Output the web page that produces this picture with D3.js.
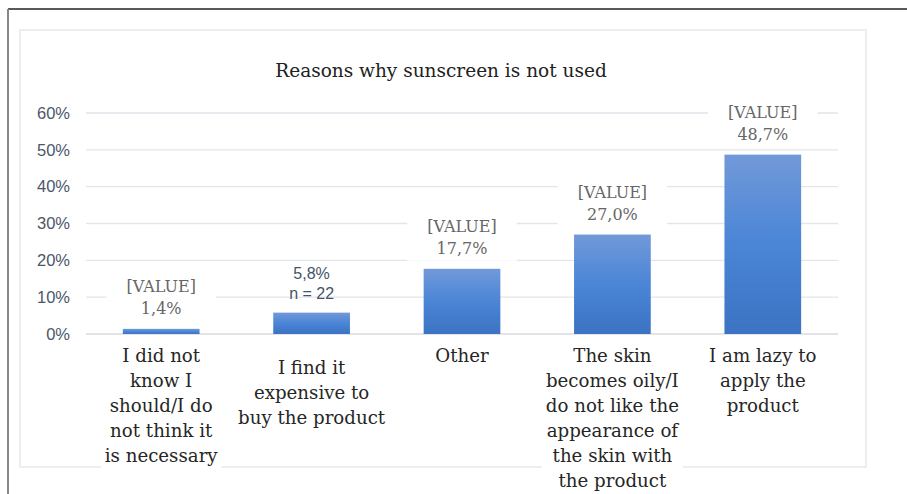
<!DOCTYPE html>
<html>
<head>
<meta charset="utf-8">
<script src="https://cdn.jsdelivr.net/npm/d3@7"></script>
<style>
  html, body { margin: 0; padding: 0; background: #fff; }
  svg { display: block; }
</style>
</head>
<body>
<div id="chart"></div>
<script>
// -------------------------------
// Data
// -------------------------------
const categories = ["not_know", "expensive", "other", "oily", "lazy"];
const categoryLines = [
  ["I did not", "know I", "should/I do", "not think it", "is necessary"],
  ["I find it", "expensive to", "buy the product"],
  ["Other"],
  ["The skin", "becomes oily/I", "do not like the", "appearance of", "the skin with", "the product"],
  ["I am lazy to", "apply the", "product"]
];
const values = [1.4, 5.8, 17.7, 27.0, 48.7];
const valueLabels = [
  ["[VALUE]", "1,4%"],
  ["5,8%", "n = 22"],
  ["[VALUE]", "17,7%"],
  ["[VALUE]", "27,0%"],
  ["[VALUE]", "48,7%"]
];
const yTicks = [0, 10, 20, 30, 40, 50, 60];
const chartTitle = "Reasons why sunscreen is not used";

// -------------------------------
// Layout
// -------------------------------
const width = 907, height = 494;
const plot = { left: 86, right: 838, top: 113, bottom: 334 };
const serif = "'Palatino Linotype', 'Book Antiqua', Palatino, 'DejaVu Serif', serif";
const sans = "'Liberation Sans', Arial, sans-serif";
// the second category label sits a bit lower in the original
const labelShift = [0, 12, 0, 0, 0];

const svg = d3.select("#chart").append("svg")
  .attr("width", width)
  .attr("height", height);

// outer page frame
svg.append("line").attr("x1", 8).attr("x2", width).attr("y1", 9).attr("y2", 9)
  .attr("stroke", "#222").attr("stroke-width", 1.5);
svg.append("line").attr("x1", 8).attr("x2", 8).attr("y1", 9).attr("y2", height)
  .attr("stroke", "#888").attr("stroke-width", 2);

// chart area border
svg.append("rect")
  .attr("x", 20).attr("y", 30).attr("width", 846).attr("height", 437)
  .attr("fill", "#fff").attr("stroke", "#e3e4ec").attr("stroke-width", 1.3);

// gradient for bars
const grad = svg.append("defs").append("linearGradient")
  .attr("id", "barGrad").attr("x1", 0).attr("x2", 0).attr("y1", 0).attr("y2", 1);
grad.append("stop").attr("offset", "0%").attr("stop-color", "#7299d9");
grad.append("stop").attr("offset", "50%").attr("stop-color", "#4a85d6");
grad.append("stop").attr("offset", "100%").attr("stop-color", "#3c73c3");

// -------------------------------
// Scales
// -------------------------------
const xScale = d3.scaleBand()
  .domain(categories)
  .range([plot.left, plot.right])
  .paddingInner(0.49)
  .paddingOuter(0.245);

const yScale = d3.scaleLinear()
  .domain([0, 60])
  .range([plot.bottom, plot.top]);

// gridlines
svg.append("g").selectAll("line")
  .data(yTicks)
  .join("line")
  .attr("x1", plot.left).attr("x2", plot.right)
  .attr("y1", d => yScale(d)).attr("y2", d => yScale(d))
  .attr("stroke", d => d === 0 ? "#d9dbe3" : "#e3e5ec")
  .attr("stroke-width", 1.3);

// y axis labels
const yAxis = d3.axisLeft(yScale).tickValues(yTicks).tickSize(0).tickPadding(0)
  .tickFormat(d => d + "%");
const yG = svg.append("g").attr("transform", `translate(70,0)`).call(yAxis);
yG.select(".domain").remove();
yG.selectAll("text")
  .attr("font-family", sans).attr("font-size", 16.5).attr("fill", "#4c566a");

// title
svg.append("text")
  .attr("x", 441).attr("y", 77)
  .attr("text-anchor", "middle")
  .attr("font-family", serif).attr("font-size", 18.5).attr("fill", "#222")
  .text(chartTitle);

// -------------------------------
// Bars
// -------------------------------
svg.append("g").selectAll("rect")
  .data(values)
  .join("rect")
  .attr("x", (d, i) => xScale(categories[i]))
  .attr("width", xScale.bandwidth())
  .attr("y", d => yScale(d))
  .attr("height", d => yScale(0) - yScale(d))
  .attr("fill", "url(#barGrad)");

// -------------------------------
// Data labels
// -------------------------------
values.forEach((v, i) => {
  const cx = xScale(categories[i]) + xScale.bandwidth() / 2;
  const top = yScale(v);
  const isPlain = i === 1;
  const g = svg.append("g");
  const box = g.append("rect").attr("fill", "#fff");
  let maxW = 0;
  valueLabels[i].forEach((line, j) => {
    const t = g.append("text")
      .attr("x", cx)
      .attr("y", top - (isPlain ? 14 : 15) - (1 - j) * (isPlain ? 20 : 22))
      .attr("text-anchor", "middle")
      .attr("font-family", isPlain ? sans : serif)
      .attr("font-size", isPlain ? 16 : 16)
      .attr("fill", isPlain ? "#44546a" : "#666")
      .text(line);
    maxW = Math.max(maxW, t.node().getComputedTextLength());
  });
  if (!isPlain) {
    box.attr("x", cx - maxW / 2 - 20).attr("y", top - 56)
      .attr("width", maxW + 40).attr("height", 48);
  } else {
    box.remove();
  }
});

// -------------------------------
// Category labels
// -------------------------------
categoryLines.forEach((lines, i) => {
  const cx = xScale(categories[i]) + xScale.bandwidth() / 2;
  const y0 = 362 + labelShift[i];
  const g = svg.append("g");
  const box = g.append("rect").attr("fill", "#fff");
  let maxW = 0;
  lines.forEach((line, j) => {
    const t = g.append("text")
      .attr("x", cx).attr("y", y0 + j * 25)
      .attr("text-anchor", "middle")
      .attr("font-family", serif).attr("font-size", 18.2).attr("fill", "#262626")
      .text(line);
    maxW = Math.max(maxW, t.node().getComputedTextLength());
  });
  box.attr("x", cx - maxW / 2 - 4).attr("y", y0 - 20)
    .attr("width", maxW + 8).attr("height", lines.length * 25 + 2);
});
</script>
</body>
</html>
